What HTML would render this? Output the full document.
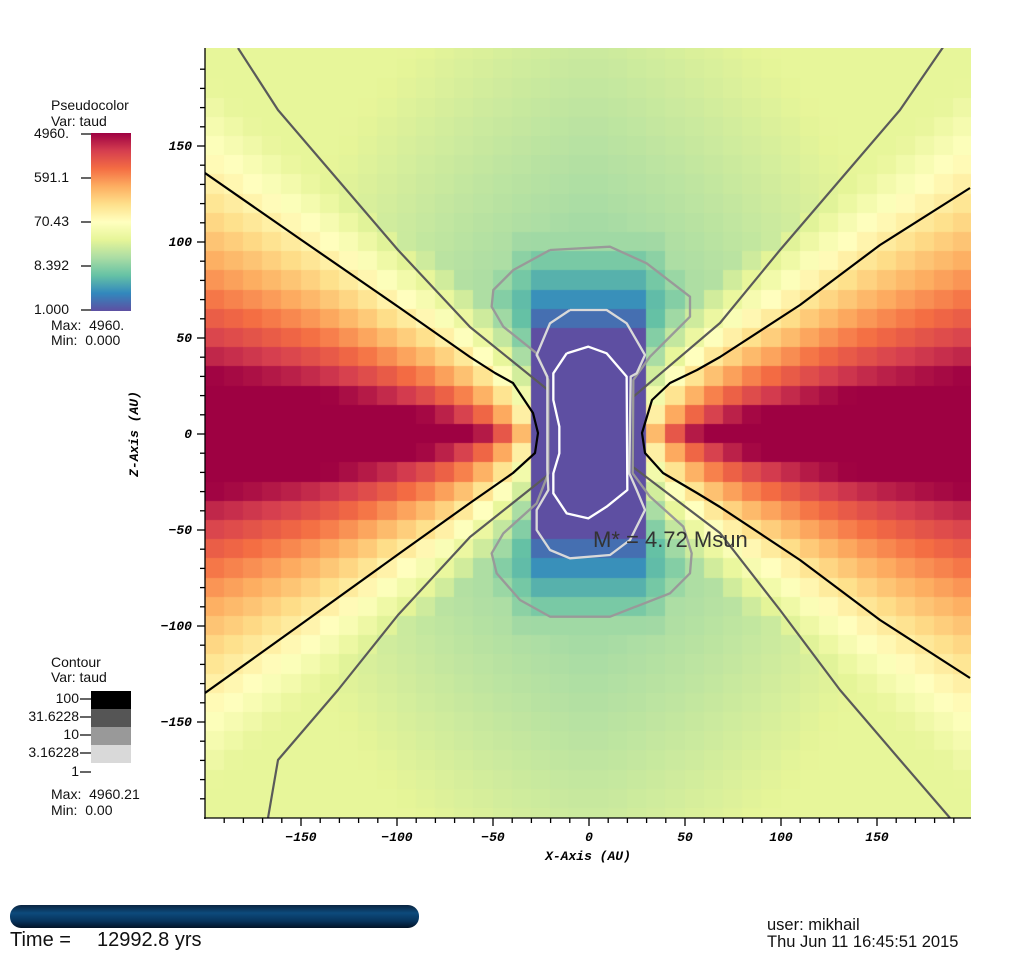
<!DOCTYPE html>
<html><head><meta charset="utf-8">
<style>
html,body{margin:0;padding:0;background:#fff;}
body{width:1024px;height:963px;position:relative;overflow:hidden;font-family:"Liberation Sans",sans-serif;}
#c{position:absolute;left:205px;top:48px;}
svg{position:absolute;left:0;top:0;}
.t{position:absolute;font-size:14px;color:#111;white-space:nowrap;}
.r{text-align:right;width:70px;}
</style></head><body>
<canvas id="c" width="766" height="770"></canvas>
<svg width="1024" height="963" xmlns="http://www.w3.org/2000/svg">
<defs>
<linearGradient id="cb" x1="0" y1="1" x2="0" y2="0">
<stop offset="0" stop-color="#5e4fa2"/><stop offset="0.1" stop-color="#3288bd"/><stop offset="0.2" stop-color="#66c2a5"/><stop offset="0.3" stop-color="#abdda4"/><stop offset="0.4" stop-color="#e6f598"/><stop offset="0.5" stop-color="#ffffbf"/><stop offset="0.6" stop-color="#fee08b"/><stop offset="0.7" stop-color="#fdae61"/><stop offset="0.8" stop-color="#f46d43"/><stop offset="0.9" stop-color="#d53e4f"/><stop offset="1" stop-color="#9e0142"/>
</linearGradient>
<linearGradient id="tb" x1="0" y1="0" x2="0" y2="1">
<stop offset="0" stop-color="#0a2440"/><stop offset="0.35" stop-color="#0d4a7c"/><stop offset="0.7" stop-color="#07335c"/><stop offset="1" stop-color="#021326"/>
</linearGradient>
<clipPath id="pc"><rect x="205" y="48" width="766" height="770"/></clipPath>
</defs>
<g clip-path="url(#pc)" fill="none" stroke-width="2.2" stroke-linejoin="round">
<polyline stroke="#5a5a5a" points="238,48 278,110 338,180 398,250 470,327 548,390 548,475 470,537 398,615 338,690 278,760 268,818"/>
<polyline stroke="#5a5a5a" points="948,40 900,110 840,180 780,250 720,323 633,397 633,467 720,533 780,610 840,690 900,760 950,818"/>
<polyline stroke="#000" points="205,173 300,239 400,308 470,357 495,373 513,383 533,413 538,433 535,453 513,473 493,487 470,503 400,553 300,625 205,693"/>
<polyline stroke="#000" points="970,188 880,245 800,305 720,357 697,370 670,383 652,400 642,433 645,453 663,473 697,493 720,507 800,560 880,620 970,678"/>
<g transform="translate(470,240) scale(0.33333)" stroke-width="7">
<polyline stroke="#999" points="240,30 420,20 530,70 660,170 660,230 590,300 540,350 490,420 488,700 540,770 640,860 665,940 660,1000 600,1060 420,1130 240,1130 150,1080 80,1000 65,940 100,880 200,790 235,700 235,420 200,340 100,260 65,200 70,150 130,90 240,30"/>
<polyline stroke="#d9d9d9" points="300,210 410,210 470,250 525,345 500,400 482,410 478,700 500,750 525,810 480,900 420,945 300,955 240,930 200,870 200,810 235,750 232,690 232,410 200,345 240,250 300,210"/>
<polyline stroke="#fff" points="290,340 355,320 410,340 470,410 472,750 410,800 355,835 290,820 250,760 250,700 268,640 268,560 250,480 250,400 290,340"/>
</g>
</g>
<text x="593" y="547" font-family="Liberation Sans,sans-serif" font-size="22" fill="#333">M* = 4.72 Msun</text>
<g stroke="#000" stroke-width="1.3" fill="none">
<line x1="205" y1="48" x2="205" y2="819"/>
<line x1="204" y1="818" x2="971" y2="818"/>
<g id="ticks"></g>
</g>
<g font-family="Liberation Mono,monospace" font-weight="bold" font-style="italic" font-size="13" fill="#000">
<g id="tl"></g>
<text x="588" y="860" text-anchor="middle">X-Axis (AU)</text>
<text transform="translate(138,434) rotate(-90)" text-anchor="middle">Z-Axis (AU)</text>
</g>
<rect x="91" y="133" width="40" height="178" fill="url(#cb)"/>
<g stroke="#000" stroke-width="1.2">
<line x1="81" y1="134" x2="91" y2="134"/><line x1="81" y1="178" x2="91" y2="178"/><line x1="81" y1="222" x2="91" y2="222"/><line x1="81" y1="266" x2="91" y2="266"/><line x1="81" y1="310" x2="91" y2="310"/>
<line x1="80" y1="699" x2="91" y2="699"/><line x1="80" y1="717" x2="91" y2="717"/><line x1="80" y1="735" x2="91" y2="735"/><line x1="80" y1="753" x2="91" y2="753"/><line x1="80" y1="772" x2="91" y2="772"/>
</g>
<rect x="91" y="691" width="40" height="18" fill="#000"/>
<rect x="91" y="709" width="40" height="18" fill="#555"/>
<rect x="91" y="727" width="40" height="18" fill="#999"/>
<rect x="91" y="745" width="40" height="18" fill="#d9d9d9"/>
<rect x="10" y="905" width="409" height="23" rx="11" fill="url(#tb)"/>
</svg>
<div class="t" style="left:51px;top:97px">Pseudocolor</div>
<div class="t" style="left:51px;top:113px">Var: taud</div>
<div class="t r" style="left:-1px;top:125px">4960.</div>
<div class="t r" style="left:-1px;top:169px">591.1</div>
<div class="t r" style="left:-1px;top:213px">70.43</div>
<div class="t r" style="left:-1px;top:257px">8.392</div>
<div class="t r" style="left:-1px;top:301px">1.000</div>
<div class="t" style="left:51px;top:317px">Max:&nbsp; 4960.</div>
<div class="t" style="left:51px;top:332px">Min:&nbsp; 0.000</div>
<div class="t" style="left:51px;top:654px">Contour</div>
<div class="t" style="left:51px;top:669px">Var: taud</div>
<div class="t r" style="left:9px;top:690px">100</div>
<div class="t r" style="left:9px;top:708px">31.6228</div>
<div class="t r" style="left:9px;top:726px">10</div>
<div class="t r" style="left:9px;top:744px">3.16228</div>
<div class="t r" style="left:9px;top:763px">1</div>
<div class="t" style="left:51px;top:786px">Max:&nbsp; 4960.21</div>
<div class="t" style="left:51px;top:802px">Min:&nbsp; 0.00</div>
<div class="t" style="left:10px;top:929px;font-size:20px">Time =</div>
<div class="t" style="left:97px;top:929px;font-size:20px">12992.8 yrs</div>
<div class="t" style="left:767px;top:916px;font-size:16.5px">user: mikhail</div>
<div class="t" style="left:767px;top:933px;font-size:16.5px">Thu Jun 11 16:45:51 2015</div>
<script>
(function(){
var stops=["#5e4fa2","#3288bd","#66c2a5","#abdda4","#e6f598","#ffffbf","#fee08b","#fdae61","#f46d43","#d53e4f","#9e0142"].map(function(h){return [parseInt(h.substr(1,2),16),parseInt(h.substr(3,2),16),parseInt(h.substr(5,2),16)];});
function col(v){var t=Math.max(0,Math.min(1,v/3.695))*10;var i=Math.min(9,Math.floor(t));var f=t-i;var a=stops[i],b=stops[i+1];
return "rgb("+Math.round(a[0]+(b[0]-a[0])*f)+","+Math.round(a[1]+(b[1]-a[1])*f)+","+Math.round(a[2]+(b[2]-a[2])*f)+")";}
function val(x,z){var ax=Math.abs(x),az=Math.abs(z);var r=Math.sqrt(x*x+z*z);
var B=Math.min(1.5,0.8+0.0025*r+0.0015*ax);
if(ax<30){return Math.min(B,Math.max(0,(az-50)*0.021));}
var Cv=0.6+(ax-30)*0.02+Math.max(0,az-70)*0.012;
var A=4.4-1.9*Math.exp(-(ax-35)/25);
var h=ax<100?49+0.6*(ax-35):88+0.84*(ax-100);
var D=A*Math.exp(-az/h);
return Math.max(D,Math.min(B,Cv));}
var c=document.getElementById("c").getContext("2d");
var s=1.92;
for(var i=0;i<40;i++){for(var j=0;j<41;j++){
var xc=-195+10*i, zc=200-10*j;
var px=(xc-5+200)*s, py=434-48-(zc+5)*s;
c.fillStyle=col(val(xc,zc));
c.fillRect(Math.floor(px),Math.floor(py),Math.ceil(s*10)+1,Math.ceil(s*10)+1);}}
var NS="http://www.w3.org/2000/svg";
var tk=document.getElementById("ticks"),tl=document.getElementById("tl");
function ln(x1,y1,x2,y2){var l=document.createElementNS(NS,"line");l.setAttribute("x1",x1);l.setAttribute("y1",y1);l.setAttribute("x2",x2);l.setAttribute("y2",y2);tk.appendChild(l);}
function tx(x,y,s,anc){var t=document.createElementNS(NS,"text");t.setAttribute("x",x);t.setAttribute("y",y);t.setAttribute("text-anchor",anc);t.textContent=s;tl.appendChild(t);}
for(var v=-190;v<=190;v+=10){var maj=(v%50===0);
var X=589+v*s;ln(X,818,X,818+(maj?8:5));
var Y=434-v*s;ln(205,Y,205-(maj?8:5),Y);
if(maj){var lab=v<0?"\u2212"+(-v):""+v;tx(X,841,lab,"middle");tx(192,Y+4,lab,"end");}}
})();
</script>
</body></html>
